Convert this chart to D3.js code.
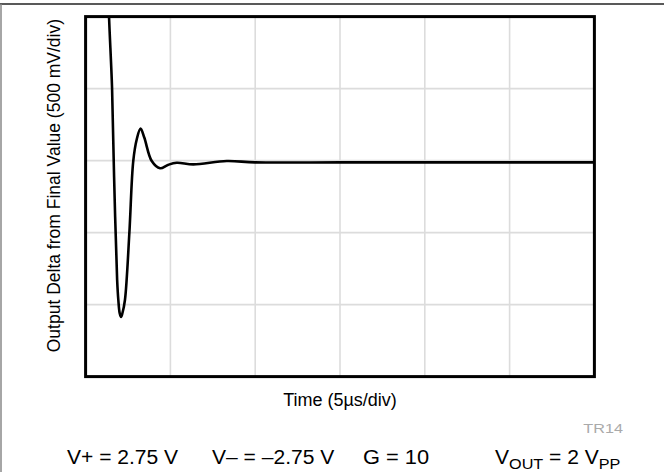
<!DOCTYPE html>
<html>
<head>
<meta charset="utf-8">
<script src="https://cdn.jsdelivr.net/npm/d3@7"></script>
<style>
  html, body { margin: 0; padding: 0; background: #fff; }
  svg { display: block; }
  text { font-family: Arial, "Liberation Sans", Helvetica, sans-serif; fill: #000; }
</style>
</head>
<body>
<svg id="chart" width="664" height="472"></svg>
<script>
// Time in µs (5 µs/div, 6 divisions)
const timeUs = [1.25, 1.38, 1.56, 1.68, 1.86, 1.93, 2.01, 2.09, 2.17, 2.32, 2.58, 2.81, 3.02, 3.24, 3.46, 3.90, 4.39, 4.85, 5.37, 6.35, 8.32, 9.99, 15.0, 20.0, 25.0, 30.0];
// Output delta from final value in mV (500 mV/div)
const deltaMv = [1500, 1004, 504, -114, -829, -968, -1060, -1086, -1060, -968, -503, -3, 150, 223, 160, -3, -53, -30, -15, -26, -3, -12, -12, -12, -12, -12];
const yGrid = [-1000, -500, 0, 500];
const xGrid = [5, 10, 15, 20, 25];
const yTitle = "Output Delta from Final Value (500 mV/div)";
const xTitle = "Time (5µs/div)";
const figId = "TR14";

const svg = d3.select("#chart");
const pL = 85.6, pR = 594.4, pT = 16.6, pB = 376.6;

const x = d3.scaleLinear().domain([0, 30]).range([pL, pR]);
const y = d3.scaleLinear().domain([-1500, 1000]).range([pB, pT]);

// outer frame lines
svg.append("line").attr("x1", 0).attr("x2", 664).attr("y1", 4).attr("y2", 4)
  .attr("stroke", "#222").attr("stroke-width", 1.3);
svg.append("line").attr("x1", 1).attr("x2", 1).attr("y1", 4).attr("y2", 472)
  .attr("stroke", "#888").attr("stroke-width", 1.5);

// grid
svg.append("g").selectAll("line").data(xGrid).join("line")
  .attr("x1", d => x(d)).attr("x2", d => x(d))
  .attr("y1", pT).attr("y2", pB)
  .attr("stroke", "#dcdcdc").attr("stroke-width", 1.6);
svg.append("g").selectAll("line").data(yGrid).join("line")
  .attr("x1", pL).attr("x2", pR)
  .attr("y1", d => y(d)).attr("y2", d => y(d))
  .attr("stroke", "#dcdcdc").attr("stroke-width", 1.6);

// clip
svg.append("clipPath").attr("id", "clip").append("rect")
  .attr("x", pL).attr("y", pT).attr("width", pR - pL).attr("height", pB - pT);

const data = timeUs.map((t, i) => [t, deltaMv[i]]);
const line = d3.line().x(d => x(d[0])).y(d => y(d[1])).curve(d3.curveCatmullRom.alpha(0.5));
svg.append("path").datum(data)
  .attr("clip-path", "url(#clip)")
  .attr("d", line)
  .attr("fill", "none").attr("stroke", "#000").attr("stroke-width", 2.6)
  .attr("stroke-linejoin", "round");

// plot frame
svg.append("rect").attr("x", pL).attr("y", pT)
  .attr("width", pR - pL).attr("height", pB - pT)
  .attr("fill", "none").attr("stroke", "#000").attr("stroke-width", 3);

// axis titles
svg.append("text")
  .attr("transform", `translate(60,${(pT + pB) / 2 - 11}) rotate(-90)`)
  .attr("text-anchor", "middle").attr("font-size", 17.5)
  .text(yTitle);
svg.append("text").attr("x", (pL + pR) / 2).attr("y", 405.5)
  .attr("text-anchor", "middle").attr("font-size", 18).text(xTitle);

svg.append("text").attr("transform", "translate(623,433) scale(1.3,1)")
  .attr("text-anchor", "end")
  .attr("font-size", 12.5).style("fill", "#aaa").text(figId);

// conditions
const cond = svg.append("g").attr("font-size", 19.5);
const sx = 1.08;
cond.append("text").attr("transform", `translate(67,463.5) scale(${sx},1)`).text("V+ = 2.75 V");
cond.append("text").attr("transform", `translate(212,463.5) scale(${sx},1)`).text("V– = –2.75 V");
cond.append("text").attr("transform", `translate(363,463.5) scale(1.12,1)`).text("G = 10");
const vout = cond.append("text").attr("transform", `translate(495,463.5) scale(${sx},1)`);
vout.append("tspan").text("V");
vout.append("tspan").attr("font-size", 15).attr("dy", 5).text("OUT");
vout.append("tspan").attr("dy", -5).text(" = 2 V");
vout.append("tspan").attr("font-size", 15).attr("dy", 5).text("PP");
</script>
</body>
</html>
